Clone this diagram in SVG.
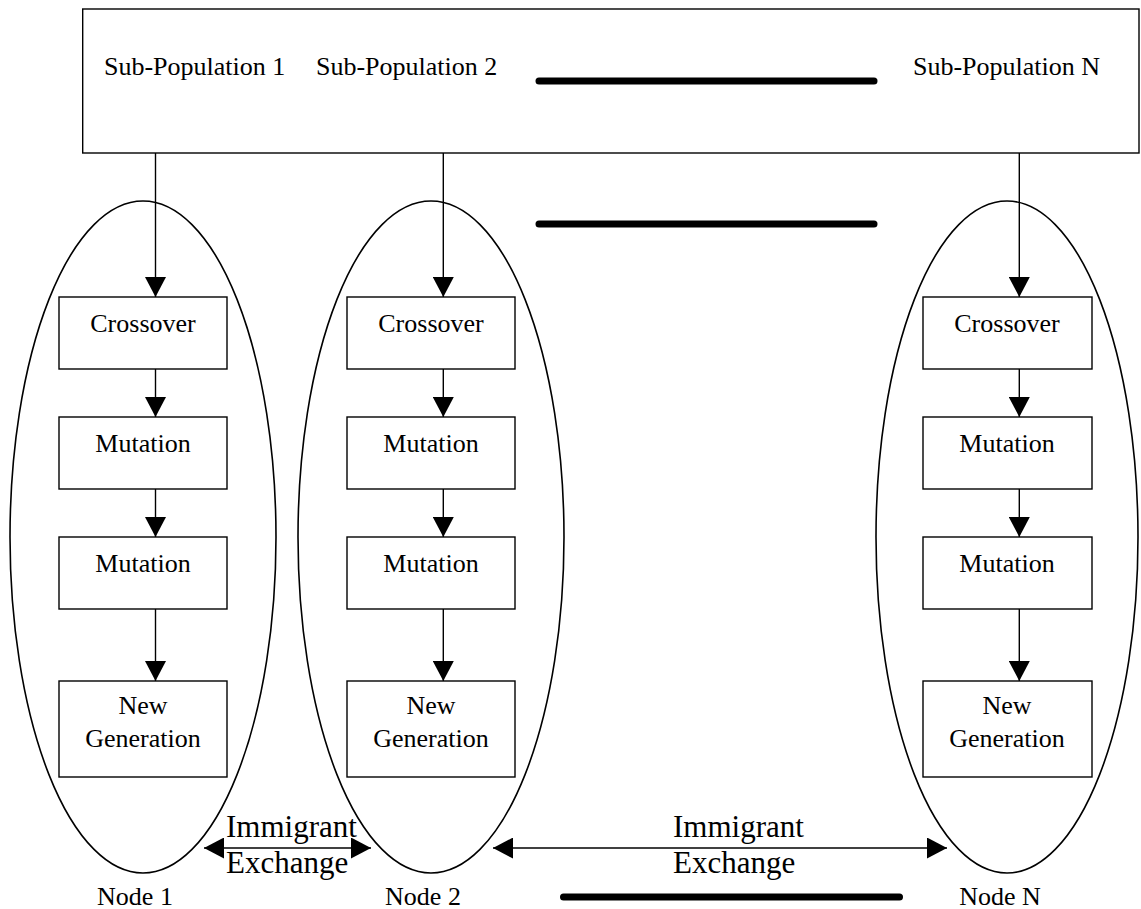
<svg xmlns="http://www.w3.org/2000/svg" width="1141" height="909" viewBox="0 0 1141 909">
<defs>
<marker id="ah" markerUnits="userSpaceOnUse" markerWidth="20" markerHeight="21" refX="20" refY="10.5" orient="auto-start-reverse">
<path d="M0,0 L20,10.5 L0,21 Z" fill="#000"/>
</marker>
<style>
text{font-family:"Liberation Serif","Times New Roman",serif;fill:#000}
.t{font-size:26px}
.c{text-anchor:middle}
.big{font-size:31px}
.box{fill:#fff;stroke:#000;stroke-width:1.4}
.ell{fill:none;stroke:#000;stroke-width:1.6}
.arr{fill:none;stroke:#000;stroke-width:1.4;marker-end:url(#ah)}
.dbl{fill:none;stroke:#000;stroke-width:1.4;marker-start:url(#ah);marker-end:url(#ah)}
.thick{stroke:#000;stroke-width:7;stroke-linecap:round}
</style>
</defs>
<rect width="1141" height="909" fill="#fff"/>

<g id="population">
<rect class="box" x="82.7" y="9" width="1056.3" height="144"/>
<text class="t" x="104" y="75">Sub-Population 1</text>
<text class="t" x="316" y="75">Sub-Population 2</text>
<text class="t" x="913" y="75">Sub-Population N</text>
<line class="thick" x1="539" y1="81" x2="874" y2="81"/>
</g>

<g id="ellipses">
<ellipse id="node1-ellipse" class="ell" cx="143" cy="537" rx="133" ry="336"/>
<ellipse id="node2-ellipse" class="ell" cx="431" cy="537" rx="133" ry="336"/>
<ellipse id="nodeN-ellipse" class="ell" cx="1007" cy="537" rx="131" ry="336"/>
</g>

<g id="connectors">
<line class="arr" x1="155.5" y1="153" x2="155.5" y2="297"/>
<line class="arr" x1="155.5" y1="369" x2="155.5" y2="417"/>
<line class="arr" x1="155.5" y1="489" x2="155.5" y2="537"/>
<line class="arr" x1="155.5" y1="609" x2="155.5" y2="681"/>
<line class="arr" x1="443.3" y1="153" x2="443.3" y2="297"/>
<line class="arr" x1="443.3" y1="369" x2="443.3" y2="417"/>
<line class="arr" x1="443.3" y1="489" x2="443.3" y2="537"/>
<line class="arr" x1="443.3" y1="609" x2="443.3" y2="681"/>
<line class="arr" x1="1019.3" y1="153" x2="1019.3" y2="297"/>
<line class="arr" x1="1019.3" y1="369" x2="1019.3" y2="417"/>
<line class="arr" x1="1019.3" y1="489" x2="1019.3" y2="537"/>
<line class="arr" x1="1019.3" y1="609" x2="1019.3" y2="681"/>
<line class="dbl" x1="204" y1="848" x2="371" y2="848"/>
<line class="dbl" x1="493" y1="848" x2="947" y2="848"/>
</g>

<g id="node1">
<rect class="box" x="59" y="297" width="168" height="72"/>
<text class="t c" x="143" y="332">Crossover</text>
<rect class="box" x="59" y="417" width="168" height="72"/>
<text class="t c" x="143" y="452">Mutation</text>
<rect class="box" x="59" y="537" width="168" height="72"/>
<text class="t c" x="143" y="572">Mutation</text>
<rect class="box" x="59" y="681" width="168" height="96"/>
<text class="t c" x="143" y="714">New</text>
<text class="t c" x="143" y="747">Generation</text>
<text class="t c" x="135" y="905">Node 1</text>
</g>

<g id="node2">
<rect class="box" x="347" y="297" width="168" height="72"/>
<text class="t c" x="431" y="332">Crossover</text>
<rect class="box" x="347" y="417" width="168" height="72"/>
<text class="t c" x="431" y="452">Mutation</text>
<rect class="box" x="347" y="537" width="168" height="72"/>
<text class="t c" x="431" y="572">Mutation</text>
<rect class="box" x="347" y="681" width="168" height="96"/>
<text class="t c" x="431" y="714">New</text>
<text class="t c" x="431" y="747">Generation</text>
<text class="t c" x="423" y="905">Node 2</text>
</g>

<g id="nodeN">
<rect class="box" x="923" y="297" width="169" height="72"/>
<text class="t c" x="1007" y="332">Crossover</text>
<rect class="box" x="923" y="417" width="169" height="72"/>
<text class="t c" x="1007" y="452">Mutation</text>
<rect class="box" x="923" y="537" width="169" height="72"/>
<text class="t c" x="1007" y="572">Mutation</text>
<rect class="box" x="923" y="681" width="169" height="96"/>
<text class="t c" x="1007" y="714">New</text>
<text class="t c" x="1007" y="747">Generation</text>
<text class="t c" x="1000" y="905">Node N</text>
</g>

<g id="ellipsis-bars">
<line class="thick" x1="539" y1="224" x2="874" y2="224"/>
<line class="thick" x1="563.5" y1="897" x2="899.5" y2="897"/>
</g>

<g id="exchange-labels">
<text class="big" x="226" y="837">Immigrant</text>
<text class="big" x="226" y="873">Exchange</text>
<text class="big" x="673" y="837">Immigrant</text>
<text class="big" x="673" y="873">Exchange</text>
</g>
</svg>
